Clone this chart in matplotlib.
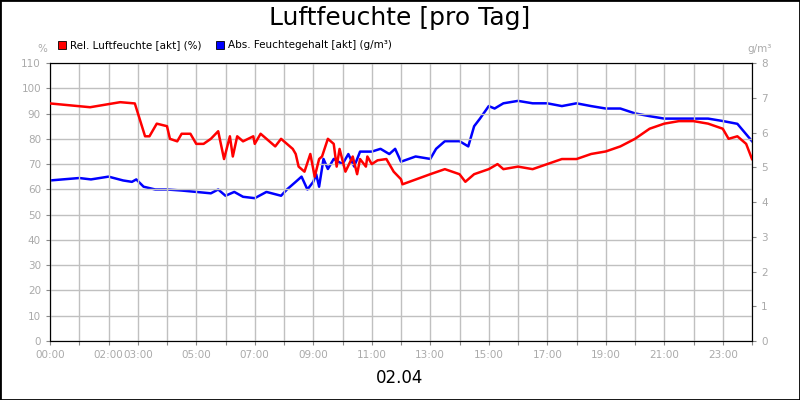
import matplotlib
matplotlib.use("Agg")
import matplotlib.pyplot as plt
from matplotlib.patches import Rectangle

rel_t = [0,1.37,2.4,2.9,3.25,3.4,3.65,4.0,4.1,4.35,4.5,4.8,5.0,5.25,5.5,5.75,5.95,6.15,6.25,6.4,6.6,6.95,7.0,7.2,7.4,7.7,7.9,8.1,8.3,8.4,8.5,8.7,8.9,9.05,9.2,9.3,9.5,9.7,9.8,9.9,10.1,10.35,10.5,10.6,10.8,10.85,11.0,11.2,11.5,11.75,12.0,12.05,13.0,13.5,14.0,14.2,14.5,15.0,15.3,15.5,16.0,16.5,17.0,17.5,18.0,18.5,19.0,19.5,20.0,20.5,21.0,21.5,22.0,22.5,23.0,23.2,23.5,23.8,24.0]
rel_v = [94,92.5,94.5,94,81,81,86,85,80,79,82,82,78,78,80,83,72,81,73,81,79,81,78,82,80,77,80,78,76,74,69,67,74,65,72,73,80,78,69,76,67,73,66,72,69,73,70,71.5,72,67,64,62,66,68,66,63,66,68,70,68,69,68,70,72,72,74,75,77,80,84,86,87,87,86,84,80,81,78,72]
abs_t = [0,1.0,1.4,2.0,2.5,2.8,2.95,3.2,3.6,4.0,4.5,5.0,5.5,5.75,6.0,6.3,6.6,7.0,7.4,7.9,8.1,8.4,8.6,8.8,9.0,9.1,9.2,9.35,9.5,9.7,10.0,10.2,10.4,10.6,11.0,11.3,11.6,11.8,12.0,12.5,13.0,13.2,13.5,14.0,14.3,14.5,14.7,15.0,15.2,15.5,16.0,16.5,17.0,17.5,18.0,18.5,19.0,19.5,20.0,20.5,21.0,21.5,22.0,22.5,23.0,23.5,24.0]
abs_v = [4.62,4.69,4.65,4.73,4.62,4.58,4.65,4.44,4.36,4.36,4.33,4.29,4.25,4.36,4.18,4.29,4.15,4.11,4.29,4.18,4.36,4.58,4.73,4.36,4.58,4.80,4.44,5.24,4.95,5.24,5.09,5.38,5.02,5.45,5.45,5.53,5.38,5.53,5.16,5.31,5.24,5.53,5.75,5.75,5.6,6.18,6.4,6.76,6.69,6.84,6.91,6.84,6.84,6.76,6.84,6.76,6.69,6.69,6.55,6.47,6.4,6.4,6.4,6.4,6.33,6.25,5.75]
xlabels = {0:"00:00",2:"02:00",3:"03:00",5:"05:00",7:"07:00",9:"09:00",11:"11:00",13:"13:00",15:"15:00",17:"17:00",19:"19:00",21:"21:00",23:"23:00"}

gray = "#aaaaaa"
fig = plt.figure(figsize=(8, 4), dpi=100)
fig.patches.append(Rectangle((0, 0), 1, 1, transform=fig.transFigure, fill=False, ec="black", lw=2))
ax = fig.add_axes([0.0625, 0.1475, 0.8775, 0.695])
ax2 = ax.twinx()
ax.set_xlim(0, 24); ax.set_ylim(0, 110); ax2.set_ylim(0, 8)
ax.set_xticks(range(25))
ax.set_xticklabels([xlabels.get(h, "") for h in range(25)])
ax.set_yticks(range(0, 111, 10)); ax2.set_yticks(range(0, 9))
ax.grid(True, color="#c0c0c0", lw=1)
ax.set_axisbelow(True)
for a in (ax, ax2):
    a.tick_params(labelsize=7.5, labelcolor=gray, color="#888888", length=3)
    for s in a.spines.values():
        s.set_color("black")
ax.plot(rel_t, rel_v, color="#ff0000", lw=1.8, zorder=3)
ax2.plot(abs_t, abs_v, color="#0000ff", lw=1.8)
ax.set_zorder(ax2.get_zorder() + 1); ax.patch.set_visible(False)
fig.text(0.5, 0.955, "Luftfeuchte [pro Tag]", ha="center", va="center", fontsize=18)
fig.text(0.5, 0.055, "02.04", ha="center", va="center", fontsize=12)
fig.text(0.053, 0.878, "%", ha="center", va="center", fontsize=7.5, color=gray)
fig.text(0.95, 0.878, "g/m³", ha="center", va="center", fontsize=7.5, color=gray)
fig.patches.append(Rectangle((0.073, 0.877), 0.01, 0.02, transform=fig.transFigure, fc="#ff0000", ec="black", lw=0.6))
fig.text(0.088, 0.887, "Rel. Luftfeuchte [akt] (%)", va="center", fontsize=7.5)
fig.patches.append(Rectangle((0.27, 0.877), 0.01, 0.02, transform=fig.transFigure, fc="#0000ff", ec="black", lw=0.6))
fig.text(0.285, 0.887, "Abs. Feuchtegehalt [akt] (g/m³)", va="center", fontsize=7.5)
fig.savefig("out.png", dpi=100)
